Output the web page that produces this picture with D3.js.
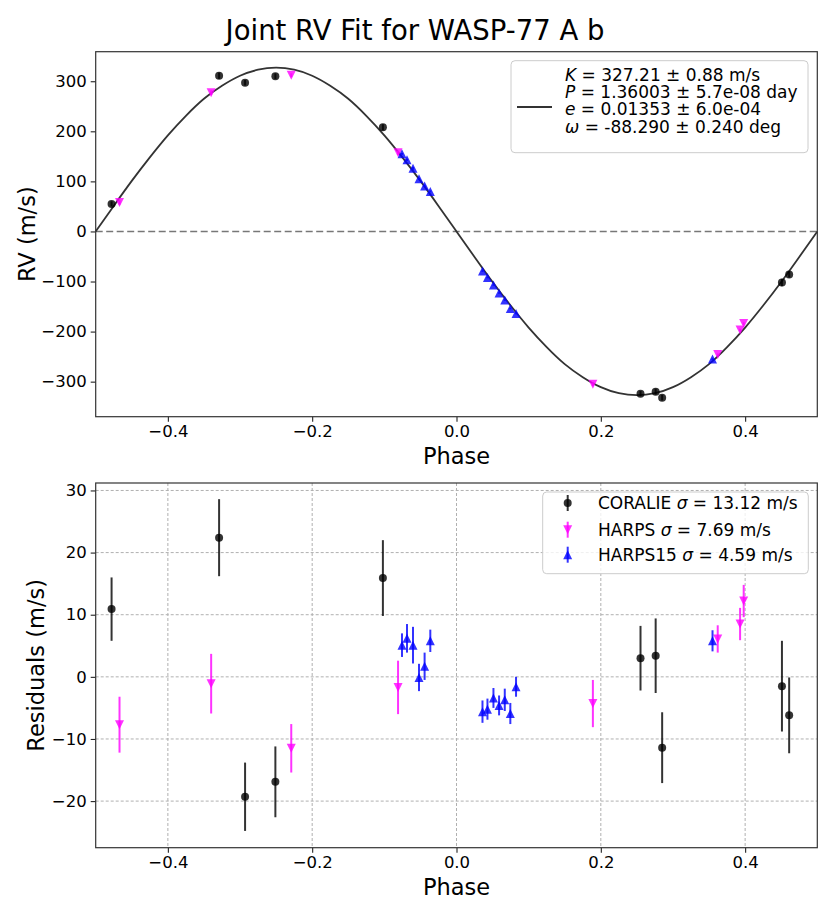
<!DOCTYPE html>
<html>
<head>
<meta charset="utf-8">
<script src="https://cdn.jsdelivr.net/npm/d3@7"></script>
<style>
    body { margin: 0; background: #fff; }
    text { font-family: "DejaVu Sans", sans-serif; }
</style>
</head>
<body>
<div id="chart"></div>
<script>
// ---- data ----

// fitted keplerian curve (phase, RV in m/s)
const modelPhase = [-0.5, -0.475, -0.45, -0.425, -0.4, -0.375, -0.35, -0.325, -0.3, -0.275,
    -0.25, -0.225, -0.2, -0.175, -0.15, -0.125, -0.1, -0.075, -0.05, -0.025,
    0, 0.025, 0.05, 0.075, 0.1, 0.125, 0.15, 0.175, 0.2, 0.225,
    0.25, 0.275, 0.3, 0.325, 0.35, 0.375, 0.4, 0.425, 0.45, 0.475, 0.5];
const modelRV = [0, 51, 101, 148, 192, 231, 265, 291, 311, 323,
    327, 323, 311, 291, 265, 231, 192, 148, 101, 51,
    0, -51, -101, -148, -192, -231, -265, -291, -311, -323,
    -327, -323, -311, -291, -265, -231, -192, -148, -101, -51, 0];

// CORALIE
const coraliePhase = [-0.478, -0.329, -0.293, -0.251, -0.102, 0.255, 0.276, 0.285, 0.451, 0.461];
const coralieRV = [55, 311, 297, 310, 208, -324, -320, -332, -102, -86];
const coralieResid = [10.9, 22.4, -19.3, -16.9, 15.9, 3.0, 3.4, -11.4, -1.5, -6.2];
const coralieErr = [5.1, 6.2, 5.5, 5.7, 6.1, 5.2, 6.0, 5.7, 7.3, 6.1];

// HARPS
const harpsPhase = [-0.467, -0.340, -0.229, -0.081, 0.189, 0.362, 0.393, 0.398];
const harpsRV = [58, 277, 312, 157, -305, -246, -197, -184];
const harpsResid = [-7.7, -1.1, -11.5, -1.7, -4.3, 6.1, 8.5, 12.2];
const harpsErr = [4.5, 4.8, 3.9, 4.3, 3.8, 2.2, 2.6, 2.6];

// HARPS15
const harps15Phase = [-0.0755, -0.0686, -0.0603, -0.052, -0.0442, -0.0363,
    0.036, 0.0429, 0.0512, 0.059, 0.0669, 0.0746, 0.0825, 0.3548];
const harps15RV = [155, 143, 126, 105, 91, 80, -79, -92, -107, -123, -137, -154, -164, -255];
const harps15Resid = [5.1, 6.2, 5.1, -0.1, 1.7, 5.8, -5.6, -5.2, -3.4, -4.6, -3.7, -5.9, -1.6, 5.8];
const harps15Err = [1.9, 2.3, 2.95, 2.2, 2.2, 1.8, 1.8, 1.7, 1.6, 1.6, 1.8, 1.7, 1.6, 1.7];

// tick values
const phaseTicks = [-0.4, -0.2, 0.0, 0.2, 0.4];
const rvTicks = [-300, -200, -100, 0, 100, 200, 300];
const residTicks = [-20, -10, 0, 10, 20, 30];

// fit parameters for the legend
const fitLabels = [
    ["K", " = 327.21 ± 0.88 m/s"],
    ["P", " = 1.36003 ± 5.7e-08 day"],
    ["e", " = 0.01353 ± 6.0e-04"],
    ["ω", " = -88.290 ± 0.240 deg"]
];
const instNames = ["CORALIE", "HARPS", "HARPS15"];
const instSigma = ["13.12", "7.69", "4.59"];
const instColors = ["#000000", "#ff00ff", "#0000ff"];
const instMarkers = ["circle", "down", "up"];

// ---- build table ----
let model = modelPhase.map((p, i) => ({ phase: p, rv: modelRV[i] }));

function makeSet(phase, rv, resid, err) {
    return phase.map((p, i) => ({ phase: p, rv: rv[i], resid: resid[i], err: err[i] }));
}
let sets = [
    makeSet(coraliePhase, coralieRV, coralieResid, coralieErr),
    makeSet(harpsPhase, harpsRV, harpsResid, harpsErr),
    makeSet(harps15Phase, harps15RV, harps15Resid, harps15Err)
];

// ---- layout ----
let width = 830, height = 913;
let left = 95.7, right = 817.3;
let top1 = { y0: 51.7, y1: 416.7 };
let top2 = { y0: 483, y1: 847.7 };

let svg = d3.select("#chart").append("svg")
    .attr("width", width)
    .attr("height", height);

let x = d3.scaleLinear().domain([-0.5, 0.5]).range([left, right]);
let y1 = d3.scaleLinear().domain([-370, 359]).range([top1.y1, top1.y0]);
let y2 = d3.scaleLinear().domain([-27.5, 31.2]).range([top2.y1, top2.y0]);

let tickFont = "16.5px";
let fmtPhase = d3.format(".1f");

function markerPath(kind, s) {
    let h = s / 2;
    if (kind == "down") return `M0,${h}L${-h},${-h}L${h},${-h}Z`;
    return `M0,${-h}L${-h},${h}L${h},${h}Z`;
}

function drawMarker(g, kind, color, cx, cy) {
    if (kind == "circle") {
        g.append("circle")
            .attr("cx", cx).attr("cy", cy).attr("r", 4)
            .attr("fill", color).attr("fill-opacity", 0.8);
    } else {
        g.append("path")
            .attr("d", markerPath(kind, 9))
            .attr("transform", `translate(${cx},${cy})`)
            .attr("fill", color).attr("fill-opacity", 0.8);
    }
}

function drawAxes(yScale, yTicks, box, yLabel, yLabelX) {
    let gx = svg.append("g")
        .attr("transform", `translate(0,${box.y1})`)
        .call(d3.axisBottom(x).tickValues(phaseTicks).tickFormat(fmtPhase).tickSize(5).tickPadding(4));
    let gy = svg.append("g")
        .attr("transform", `translate(${left},0)`)
        .call(d3.axisLeft(yScale).tickValues(yTicks).tickFormat(d3.format("d")).tickSize(5).tickPadding(4));
    [gx, gy].forEach(g => {
        g.select(".domain").remove();
        g.selectAll("line").attr("stroke", "#222").attr("stroke-width", 1.1);
        g.selectAll("text").attr("font-size", tickFont).attr("fill", "#000")
            .attr("font-family", "DejaVu Sans");
    });

    svg.append("text")
        .attr("x", (left + right) / 2)
        .attr("y", box.y1 + 47.5)
        .attr("text-anchor", "middle")
        .attr("font-size", "22.5px")
        .text("Phase");

    svg.append("text")
        .attr("transform", `translate(${yLabelX},${(box.y0 + box.y1) / 2}) rotate(-90)`)
        .attr("text-anchor", "middle")
        .attr("font-size", "22.5px")
        .text(yLabel);
}

function drawFrame(box) {
    svg.append("rect")
        .attr("x", left).attr("y", box.y0)
        .attr("width", right - left).attr("height", box.y1 - box.y0)
        .attr("fill", "none")
        .attr("stroke", "#333")
        .attr("stroke-width", 1.2);
}

// ---- title ----
svg.append("text")
    .attr("x", 415)
    .attr("y", 40)
    .attr("text-anchor", "middle")
    .attr("font-size", "27.5px")
    .text("Joint RV Fit for WASP-77 A b");

// ---- top panel: RV ----
svg.append("line")
    .attr("x1", left).attr("x2", right)
    .attr("y1", y1(0)).attr("y2", y1(0))
    .attr("stroke", "#777")
    .attr("stroke-width", 1.5)
    .attr("stroke-dasharray", "7,3.5");

let line = d3.line()
    .x(d => x(d.phase))
    .y(d => y1(d.rv))
    .curve(d3.curveNatural);

svg.append("path")
    .datum(model)
    .attr("d", line)
    .attr("fill", "none")
    .attr("stroke", "#333")
    .attr("stroke-width", 1.8);

let pts1 = svg.append("g");
sets.forEach((set, k) => {
    set.forEach(d => {
        pts1.append("line")
            .attr("x1", x(d.phase)).attr("x2", x(d.phase))
            .attr("y1", y1(d.rv - d.err)).attr("y2", y1(d.rv + d.err))
            .attr("stroke", instColors[k]).attr("stroke-opacity", 0.8)
            .attr("stroke-width", 2);
        drawMarker(pts1, instMarkers[k], instColors[k], x(d.phase), y1(d.rv));
    });
});

drawAxes(y1, rvTicks, top1, "RV (m/s)", 35);
drawFrame(top1);

// legend with fit parameters
let leg1 = svg.append("g");
leg1.append("rect")
    .attr("x", 511).attr("y", 60.7)
    .attr("width", 297).attr("height", 92)
    .attr("rx", 4)
    .attr("fill", "#fff").attr("fill-opacity", 0.8)
    .attr("stroke", "#ccc");
leg1.append("line")
    .attr("x1", 517).attr("x2", 552)
    .attr("y1", 107).attr("y2", 107)
    .attr("stroke", "#333").attr("stroke-width", 1.8);
fitLabels.forEach((lab, i) => {
    let t = leg1.append("text")
        .attr("x", 565)
        .attr("y", 81 + i * 17.2)
        .attr("font-size", "17px");
    t.append("tspan").attr("font-style", "italic").text(lab[0]);
    t.append("tspan").text(lab[1]);
});

// ---- bottom panel: residuals ----
let grid = svg.append("g");
phaseTicks.forEach(p => {
    grid.append("line")
        .attr("x1", x(p)).attr("x2", x(p))
        .attr("y1", top2.y0).attr("y2", top2.y1)
        .attr("stroke", "#b0b0b0").attr("stroke-width", 1)
        .attr("stroke-dasharray", "3,2");
});
residTicks.forEach(v => {
    grid.append("line")
        .attr("x1", left).attr("x2", right)
        .attr("y1", y2(v)).attr("y2", y2(v))
        .attr("stroke", "#b0b0b0").attr("stroke-width", 1)
        .attr("stroke-dasharray", "3,2");
});

let pts2 = svg.append("g");
sets.forEach((set, k) => {
    set.forEach(d => {
        pts2.append("line")
            .attr("x1", x(d.phase)).attr("x2", x(d.phase))
            .attr("y1", y2(d.resid - d.err)).attr("y2", y2(d.resid + d.err))
            .attr("stroke", instColors[k]).attr("stroke-opacity", 0.8)
            .attr("stroke-width", 2);
        drawMarker(pts2, instMarkers[k], instColors[k], x(d.phase), y2(d.resid));
    });
});

drawAxes(y2, residTicks, top2, "Residuals (m/s)", 44);
drawFrame(top2);

// instrument legend
let leg2 = svg.append("g");
leg2.append("rect")
    .attr("x", 542.7).attr("y", 492)
    .attr("width", 265.6).attr("height", 81.7)
    .attr("rx", 4)
    .attr("fill", "#fff").attr("fill-opacity", 0.8)
    .attr("stroke", "#ccc");
let rowY = [503, 529.7, 554.7];
instNames.forEach((name, k) => {
    let cy = rowY[k];
    leg2.append("line")
        .attr("x1", 567.7).attr("x2", 567.7)
        .attr("y1", cy - 8).attr("y2", cy + 8)
        .attr("stroke", instColors[k]).attr("stroke-opacity", 0.8)
        .attr("stroke-width", 2);
    drawMarker(leg2, instMarkers[k], instColors[k], 567.7, cy);
    let t = leg2.append("text")
        .attr("x", 598)
        .attr("y", cy + 6)
        .attr("font-size", "17px");
    t.append("tspan").text(name + " ");
    t.append("tspan").attr("font-style", "italic").text("σ");
    t.append("tspan").text(" = " + instSigma[k] + " m/s");
});
</script>
</body>
</html>
